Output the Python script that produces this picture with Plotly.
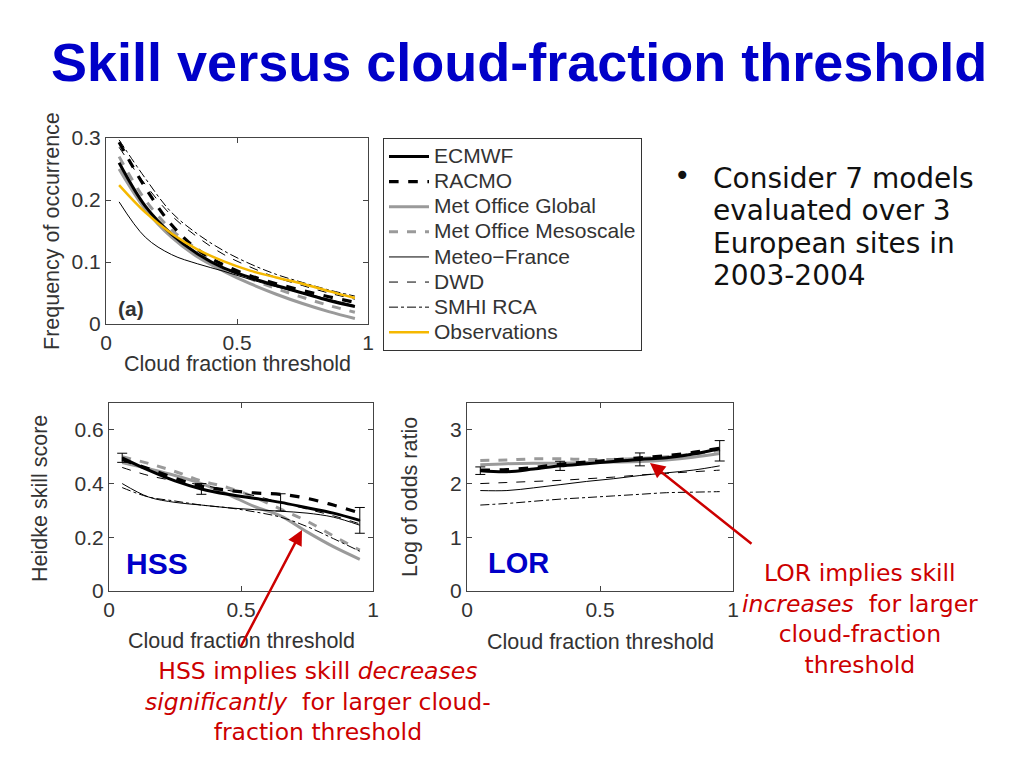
import plotly.graph_objects as go

W, H = 1024, 768

# ---------------- data ----------------
thresholds = [0.05, 0.15, 0.25, 0.35, 0.45, 0.55, 0.65, 0.75, 0.85, 0.95]
models = ["ECMWF", "RACMO", "Met Office Global", "Met Office Mesoscale",
          "Meteo\u2212France", "DWD", "SMHI RCA", "Observations"]

freq_ecmwf = [0.260, 0.190, 0.145, 0.113, 0.090, 0.075, 0.062, 0.050, 0.038, 0.028]
freq_racmo = [0.293, 0.220, 0.160, 0.120, 0.095, 0.078, 0.065, 0.054, 0.044, 0.035]
freq_mog   = [0.250, 0.185, 0.140, 0.108, 0.085, 0.065, 0.048, 0.033, 0.020, 0.009]
freq_mom   = [0.270, 0.200, 0.152, 0.120, 0.093, 0.073, 0.057, 0.043, 0.030, 0.019]
freq_mf    = [0.197, 0.140, 0.112, 0.097, 0.085, 0.072, 0.060, 0.050, 0.040, 0.030]
freq_dwd   = [0.285, 0.225, 0.175, 0.140, 0.112, 0.092, 0.075, 0.062, 0.050, 0.040]
freq_smhi  = [0.297, 0.235, 0.180, 0.145, 0.118, 0.097, 0.080, 0.067, 0.055, 0.045]
freq_obs   = [0.224, 0.180, 0.146, 0.120, 0.101, 0.086, 0.075, 0.065, 0.053, 0.042]

hss_ecmwf = [0.496, 0.450, 0.410, 0.380, 0.360, 0.345, 0.330, 0.310, 0.290, 0.263]
hss_racmo = [0.490, 0.455, 0.420, 0.390, 0.375, 0.365, 0.360, 0.345, 0.320, 0.290]
hss_mog   = [0.478, 0.455, 0.430, 0.400, 0.360, 0.315, 0.280, 0.220, 0.165, 0.118]
hss_mom   = [0.500, 0.475, 0.445, 0.410, 0.385, 0.350, 0.305, 0.260, 0.205, 0.152]
hss_mf    = [0.400, 0.350, 0.330, 0.320, 0.310, 0.303, 0.297, 0.290, 0.275, 0.245]
hss_dwd   = [0.460, 0.430, 0.410, 0.395, 0.375, 0.355, 0.330, 0.305, 0.280, 0.250]
hss_smhi  = [0.385, 0.350, 0.335, 0.320, 0.310, 0.295, 0.275, 0.240, 0.195, 0.148]

lor_ecmwf = [2.24, 2.22, 2.27, 2.33, 2.37, 2.41, 2.45, 2.48, 2.55, 2.65]
lor_racmo = [2.25, 2.26, 2.30, 2.36, 2.40, 2.44, 2.48, 2.52, 2.58, 2.66]
lor_mog   = [2.35, 2.37, 2.38, 2.38, 2.39, 2.40, 2.41, 2.44, 2.49, 2.56]
lor_mom   = [2.43, 2.44, 2.46, 2.46, 2.45, 2.45, 2.47, 2.50, 2.55, 2.62]
lor_mf    = [1.87, 1.87, 1.92, 1.98, 2.04, 2.09, 2.15, 2.20, 2.25, 2.33]
lor_dwd   = [2.00, 2.02, 2.04, 2.06, 2.09, 2.12, 2.16, 2.19, 2.22, 2.25]
lor_smhi  = [1.60, 1.63, 1.67, 1.71, 1.74, 1.77, 1.80, 1.83, 1.84, 1.85]

err_x = [0.05, 0.35, 0.65, 0.95]
hss_err_mid = [0.496, 0.380, 0.330, 0.263]
hss_err = [0.017, 0.020, 0.032, 0.048]
lor_err_mid = [2.24, 2.33, 2.45, 2.61]
lor_err = [0.07, 0.085, 0.12, 0.19]

x_ticks = [0, 0.5, 1]
x_ticktext = ["0", "0.5", "1"]
freq_ticks = [0, 0.1, 0.2, 0.3]
freq_ticktext = ["0", "0.1", "0.2", "0.3"]
hss_ticks = [0, 0.2, 0.4, 0.6]
hss_ticktext = ["0", "0.2", "0.4", "0.6"]
lor_ticks = [0, 1, 2, 3]
lor_ticktext = ["0", "1", "2", "3"]

# ---------------- styles ----------------
styles = {
    "ECMWF": dict(color="black", width=3, dash="solid"),
    "RACMO": dict(color="black", width=3.2, dash="dash"),
    "Met Office Global": dict(color="#9a9a9a", width=3, dash="solid"),
    "Met Office Mesoscale": dict(color="#9a9a9a", width=3, dash="dash"),
    "Meteo\u2212France": dict(color="black", width=1, dash="solid"),
    "DWD": dict(color="black", width=1, dash="dash"),
    "SMHI RCA": dict(color="black", width=1, dash="dashdot"),
    "Observations": dict(color="#F5B800", width=2.5, dash="solid"),
}

freq_series = [freq_ecmwf, freq_racmo, freq_mog, freq_mom, freq_mf, freq_dwd, freq_smhi, freq_obs]
hss_series = [hss_ecmwf, hss_racmo, hss_mog, hss_mom, hss_mf, hss_dwd, hss_smhi]
lor_series = [lor_ecmwf, lor_racmo, lor_mog, lor_mom, lor_mf, lor_dwd, lor_smhi]

# draw order: grey thick first, then thin, then black thick, observations on top
order = [2, 3, 4, 5, 6, 0, 1, 7]

FONT = "Liberation Sans, Arial, Helvetica, sans-serif"
GREY_TXT = "#333333"

fig = go.Figure()

for i in order:
    name = models[i]
    fig.add_trace(go.Scatter(x=thresholds, y=freq_series[i], mode="lines",
                             name='<span style="font-size:21px">%s</span>' % name,
                             line=dict(shape="spline", smoothing=1.0, **styles[name]),
                             xaxis="x", yaxis="y", showlegend=True, legendrank=i + 1))
for i in order:
    if i >= len(hss_series):
        continue
    name = models[i]
    fig.add_trace(go.Scatter(x=thresholds, y=hss_series[i], mode="lines", name=name,
                             line=dict(shape="spline", smoothing=1.0, **styles[name]),
                             xaxis="x2", yaxis="y2", showlegend=False))
    fig.add_trace(go.Scatter(x=thresholds, y=lor_series[i], mode="lines", name=name,
                             line=dict(shape="spline", smoothing=1.0, **styles[name]),
                             xaxis="x3", yaxis="y3", showlegend=False))

fig.add_trace(go.Scatter(x=err_x, y=hss_err_mid, mode="markers",
                         marker=dict(size=1, color="black"),
                         error_y=dict(type="data", array=hss_err, color="black", thickness=1, width=5),
                         xaxis="x2", yaxis="y2", showlegend=False))
fig.add_trace(go.Scatter(x=err_x, y=lor_err_mid, mode="markers",
                         marker=dict(size=1, color="black"),
                         error_y=dict(type="data", array=lor_err, color="black", thickness=1, width=5),
                         xaxis="x3", yaxis="y3", showlegend=False))

TICKFONT = dict(family=FONT, size=21, color=GREY_TXT)


def px_x(p):
    return p / W


def px_y(p):
    return 1 - p / H


def axis(domain, rng, tickvals, ticktext, anchor):
    return dict(domain=domain, range=rng, tickvals=tickvals, ticktext=ticktext,
                ticks="inside", ticklen=5, tickcolor="#444444", tickwidth=1,
                showline=True, linecolor="#444444", linewidth=1, mirror="ticks",
                showgrid=False, zeroline=False, tickfont=TICKFONT, anchor=anchor,
                fixedrange=True, automargin=False)


fig.update_layout(
    width=W, height=H,
    margin=dict(l=0, r=0, t=0, b=0, autoexpand=False),
    paper_bgcolor="white", plot_bgcolor="white",
    xaxis=axis([px_x(106), px_x(368)], [0, 1], x_ticks, x_ticktext, "y"),
    yaxis=axis([px_y(324), px_y(138)], [0, 0.3], freq_ticks, freq_ticktext, "x"),
    xaxis2=axis([px_x(109), px_x(373)], [0, 1], x_ticks, x_ticktext, "y2"),
    yaxis2=axis([px_y(591), px_y(403)], [0, 0.7], hss_ticks, hss_ticktext, "x2"),
    xaxis3=axis([px_x(467), px_x(733)], [0, 1], x_ticks, x_ticktext, "y3"),
    yaxis3=axis([px_y(591), px_y(403)], [0, 3.5], lor_ticks, lor_ticktext, "x3"),
    legend=dict(x=px_x(383), y=px_y(138), xanchor="left", yanchor="top",
                bordercolor="#333333", borderwidth=1, bgcolor="white",
                font=dict(family=FONT, size=17, color=GREY_TXT),
                itemwidth=40, tracegroupgap=0, traceorder="normal"),
    showlegend=True,
)

ann = []
# Title
ann.append(dict(text="<b>Skill versus cloud-fraction threshold</b>", x=px_x(519), y=px_y(62),
                xref="paper", yref="paper", showarrow=False, xanchor="center", yanchor="middle",
                font=dict(family="Liberation Sans Narrow, Liberation Sans, Arial, sans-serif",
                          size=54, color="#0000C8")))
# Axis titles
for txt, x, y, ang in [
    ("Frequency of occurrence", 52, 231, -90),
    ("Cloud fraction threshold", 237, 364, 0),
    ("Heidke skill score", 40, 499, -90),
    ("Cloud fraction threshold", 241, 641, 0),
    ("Log of odds ratio", 410, 497, -90),
    ("Cloud fraction threshold", 600, 642, 0),
]:
    ann.append(dict(text=txt, x=px_x(x), y=px_y(y), xref="paper", yref="paper", showarrow=False,
                    xanchor="center", yanchor="middle", textangle=ang,
                    font=dict(family=FONT, size=21.5, color=GREY_TXT)))
# Panel labels
ann.append(dict(text="<b>(a)</b>", x=0.04, y=0.025, xref="x", yref="y", showarrow=False,
                xanchor="left", yanchor="middle", font=dict(family=FONT, size=21, color=GREY_TXT)))
ann.append(dict(text="<b>HSS</b>", x=0.055, y=0.104, xref="x2", yref="y2", showarrow=False,
                xanchor="left", yanchor="middle", font=dict(family=FONT, size=30, color="#0000C8")))
ann.append(dict(text="<b>LOR</b>", x=0.07, y=0.52, xref="x3", yref="y3", showarrow=False,
                xanchor="left", yanchor="middle", font=dict(family=FONT, size=29, color="#0000C8")))
# Bullet text
BFONT = dict(family="DejaVu Sans, Verdana, sans-serif", size=28, color="#111111")
ann.append(dict(text="\u2022", x=px_x(682), y=px_y(176), xref="paper", yref="paper", showarrow=False,
                xanchor="center", yanchor="middle", font=BFONT))
for txt, y in [("Consider 7 models", 178), ("evaluated over 3", 211),
               ("European sites in", 243), ("2003-2004", 275)]:
    ann.append(dict(text=txt, x=px_x(711), y=px_y(y), xref="paper", yref="paper", showarrow=False,
                    xanchor="left", yanchor="middle", font=BFONT))
# Red comments
RFONT = dict(family="DejaVu Sans, Open Sans, sans-serif", size=23.5, color="#CC0000")
ann.append(dict(text="HSS implies skill <i>decreases</i><br><i>significantly</i>  for larger cloud-"
                     "<br>fraction threshold",
                x=px_x(318), y=px_y(701), xref="paper", yref="paper", showarrow=False,
                xanchor="center", yanchor="middle", align="center", font=RFONT))
ann.append(dict(text="LOR implies skill<br><i>increases</i>  for larger<br>cloud-fraction<br>threshold",
                x=px_x(860), y=px_y(619), xref="paper", yref="paper", showarrow=False,
                xanchor="center", yanchor="middle", align="center", font=RFONT))
# Arrows
for tipx, tipy, ax, ay in [(302, 530, -62, 118), (650, 463, 103, 82)]:
    ann.append(dict(text="", x=px_x(tipx), y=px_y(tipy), xref="paper", yref="paper",
                    showarrow=True, ax=ax, ay=ay, arrowcolor="#CC0000", arrowwidth=2.5,
                    arrowhead=2, arrowsize=1.2, standoff=0))

fig.update_layout(annotations=ann)

fig.write_html("out.html", config={"displayModeBar": False},
               post_script="document.body.style.margin='0px';document.body.style.overflow='hidden';")
